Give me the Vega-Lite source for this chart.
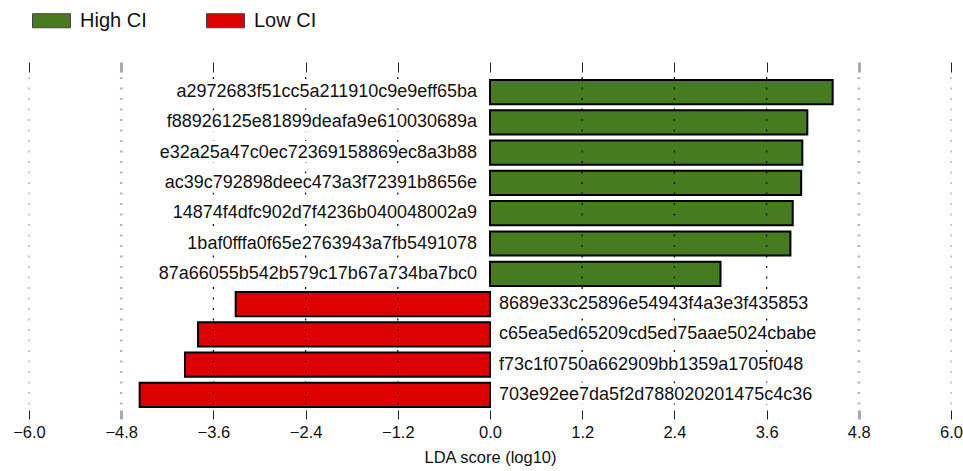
{
  "$schema": "https://vega.github.io/schema/vega-lite/v6.json",
  "autosize": {"type": "none"},
  "width": 922,
  "height": 333,
  "padding": {"left": 29, "top": 77, "right": 12, "bottom": 61},
  "background": "white",
  "config": {"font": "Liberation Sans", "view": {"stroke": null}},
  "datasets": {
    "bars": [
      {"feature": "a2972683f51cc5a211910c9e9eff65ba", "lda": 4.46, "class": "High CI"},
      {"feature": "f88926125e81899deafa9e610030689a", "lda": 4.13, "class": "High CI"},
      {"feature": "e32a25a47c0ec72369158869ec8a3b88", "lda": 4.065, "class": "High CI"},
      {"feature": "ac39c792898deec473a3f72391b8656e", "lda": 4.05, "class": "High CI"},
      {"feature": "14874f4dfc902d7f4236b040048002a9", "lda": 3.94, "class": "High CI"},
      {"feature": "1baf0fffa0f65e2763943a7fb5491078", "lda": 3.91, "class": "High CI"},
      {"feature": "87a66055b542b579c17b67a734ba7bc0", "lda": 3.0, "class": "High CI"},
      {"feature": "8689e33c25896e54943f4a3e3f435853", "lda": -3.31, "class": "Low CI"},
      {"feature": "c65ea5ed65209cd5ed75aae5024cbabe", "lda": -3.8, "class": "Low CI"},
      {"feature": "f73c1f0750a662909bb1359a1705f048", "lda": -3.97, "class": "Low CI"},
      {"feature": "703e92ee7da5f2d788020201475c4c36", "lda": -4.56, "class": "Low CI"}
    ],
    "grid": [
      {"v": -6.0}, {"v": -4.8}, {"v": -3.6}, {"v": -2.4}, {"v": -1.2},
      {"v": 1.2}, {"v": 2.4}, {"v": 3.6}, {"v": 4.8}, {"v": 6.0}
    ]
  },
  "layer": [
    {
      "data": {"name": "bars"},
      "mark": {"type": "bar", "stroke": "black", "strokeWidth": 2},
      "encoding": {
        "y": {
          "field": "feature", "type": "nominal", "sort": null, "axis": null,
          "scale": {
            "domain": [
              "a2972683f51cc5a211910c9e9eff65ba", "f88926125e81899deafa9e610030689a",
              "e32a25a47c0ec72369158869ec8a3b88", "ac39c792898deec473a3f72391b8656e",
              "14874f4dfc902d7f4236b040048002a9", "1baf0fffa0f65e2763943a7fb5491078",
              "87a66055b542b579c17b67a734ba7bc0", "8689e33c25896e54943f4a3e3f435853",
              "c65ea5ed65209cd5ed75aae5024cbabe", "f73c1f0750a662909bb1359a1705f048",
              "703e92ee7da5f2d788020201475c4c36"
            ],
            "paddingInner": 0.2, "paddingOuter": 0.1
          }
        },
        "x": {
          "field": "lda", "type": "quantitative",
          "scale": {"domain": [-6, 6], "nice": false},
          "axis": {
            "orient": "bottom",
            "values": [-6, -4.8, -3.6, -2.4, -1.2, 0, 1.2, 2.4, 3.6, 4.8, 6],
            "format": ".1f",
            "title": "LDA score (log10)",
            "titleFontSize": 16.5, "titleFontWeight": "normal", "titleColor": "#111", "titlePadding": 9,
            "labelFontSize": 16.5, "labelColor": "#111", "labelPadding": 5,
            "labelFlush": false, "labelOverlap": false,
            "tickSize": 9, "domain": false, "grid": false,
            "tickColor": {"condition": {"test": "abs(abs(datum.value) - 4.8) < 0.01", "value": "#aaaaaa"}, "value": "#222222"},
            "tickWidth": {"condition": {"test": "abs(abs(datum.value) - 4.8) < 0.01", "value": 3}, "value": 1}
          }
        },
        "color": {
          "field": "class", "type": "nominal",
          "scale": {"domain": ["High CI", "Low CI"], "range": ["#477b1f", "#dc0000"]},
          "legend": {
            "orient": "none", "legendX": 3, "legendY": -76, "direction": "horizontal",
            "title": null,
            "symbolType": "M-1,-0.37H1V0.37H-1Z", "symbolSize": 1444,
            "symbolStrokeColor": "#444444", "symbolStrokeWidth": 1, "symbolOpacity": 1,
            "labelFontSize": 20, "labelOffset": 9, "columnPadding": 57, "labelColor": "#111"
          }
        }
      }
    },
    {
      "data": {"name": "grid"},
      "transform": [{"filter": "abs(datum.v) < 4"}],
      "mark": {"type": "rule", "color": "#111111", "strokeWidth": 1.3, "strokeDash": [2, 8.5]},
      "encoding": {
        "x": {
          "field": "v", "type": "quantitative",
          "axis": {
            "orient": "top", "labels": false, "title": null, "domain": false, "grid": false,
            "offset": 5, "tickSize": 10,
            "values": [-6, -4.8, -3.6, -2.4, -1.2, 0, 1.2, 2.4, 3.6, 4.8, 6],
            "tickColor": {"condition": {"test": "abs(abs(datum.value) - 4.8) < 0.01", "value": "#aaaaaa"}, "value": "#222222"},
            "tickWidth": {"condition": {"test": "abs(abs(datum.value) - 4.8) < 0.01", "value": 3}, "value": 1}
          }
        }
      }
    },
    {
      "data": {"name": "grid"},
      "transform": [{"filter": "abs(abs(datum.v) - 4.8) < 0.01"}],
      "mark": {"type": "rule", "color": "#b5b5b5", "strokeWidth": 2.5, "strokeDash": [2, 8.5]},
      "encoding": {"x": {"field": "v", "type": "quantitative", "axis": null}}
    },
    {
      "data": {"name": "grid"},
      "transform": [{"filter": "abs(datum.v) > 5"}],
      "mark": {"type": "rule", "color": "#aaaaaa", "strokeWidth": 1.2, "strokeDash": [2, 8.5]},
      "encoding": {"x": {"field": "v", "type": "quantitative", "axis": null}}
    },
    {
      "data": {"name": "bars"},
      "transform": [{"filter": "datum.lda > 0"}],
      "mark": {"type": "text", "align": "right", "baseline": "middle", "dx": -13, "fontSize": 18, "color": "white", "stroke": "white", "strokeWidth": 9},
      "encoding": {
        "y": {"field": "feature", "type": "nominal", "sort": null},
        "x": {"datum": 0, "type": "quantitative", "axis": null},
        "text": {"field": "feature"}
      }
    },
    {
      "data": {"name": "bars"},
      "transform": [{"filter": "datum.lda < 0"}],
      "mark": {"type": "text", "align": "left", "baseline": "middle", "dx": 9, "fontSize": 18, "color": "white", "stroke": "white", "strokeWidth": 9},
      "encoding": {
        "y": {"field": "feature", "type": "nominal", "sort": null},
        "x": {"datum": 0, "type": "quantitative", "axis": null},
        "text": {"field": "feature"}
      }
    },
    {
      "data": {"name": "bars"},
      "transform": [{"filter": "datum.lda > 0"}],
      "mark": {"type": "text", "align": "right", "baseline": "middle", "dx": -13, "fontSize": 18, "color": "#111111"},
      "encoding": {
        "y": {"field": "feature", "type": "nominal", "sort": null},
        "x": {"datum": 0, "type": "quantitative", "axis": null},
        "text": {"field": "feature"}
      }
    },
    {
      "data": {"name": "bars"},
      "transform": [{"filter": "datum.lda < 0"}],
      "mark": {"type": "text", "align": "left", "baseline": "middle", "dx": 9, "fontSize": 18, "color": "#111111"},
      "encoding": {
        "y": {"field": "feature", "type": "nominal", "sort": null},
        "x": {"datum": 0, "type": "quantitative", "axis": null},
        "text": {"field": "feature"}
      }
    }
  ],
  "resolve": {"axis": {"x": "independent"}}
}
